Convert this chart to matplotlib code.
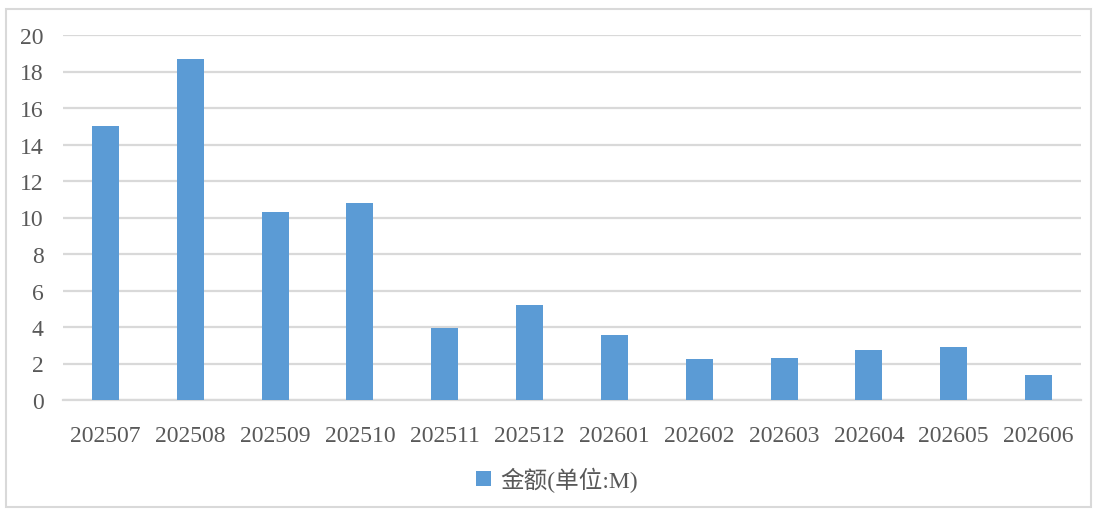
import matplotlib.pyplot as plt
from matplotlib.patches import Rectangle
import numpy as np

months = ["202507", "202508", "202509", "202510", "202511", "202512",
          "202601", "202602", "202603", "202604", "202605", "202606"]
amounts = [15.0, 18.67, 10.3, 10.78, 3.94, 5.2, 3.55, 2.22, 2.28, 2.72, 2.89, 1.39]
series_name = "金额(单位:M)"

plt.rcParams["font.family"] = ["Liberation Serif", "Noto Sans CJK SC", "DejaVu Sans"]
text_color = "#595959"
grid_color = "#d9d9d9"

fig = plt.figure(figsize=(10.98, 5.10), dpi=100)
ax = fig.add_axes([63 / 1098, 1 - 401 / 510, 1018 / 1098, 365 / 510])

x = np.arange(len(months))
ax.bar(x, amounts, width=0.32, color="#5B9BD5", label=series_name, zorder=3)

ax.set_xlim(-0.5, len(months) - 0.5)
ax.set_ylim(0, 20)
ax.set_yticks(np.arange(0, 21, 2))
ax.set_xticks(x)
ax.set_xticklabels(months)
ax.tick_params(axis="both", length=0, labelsize=17, colors=text_color)
ax.tick_params(axis="x", pad=18)
ax.tick_params(axis="y", pad=14)
ax.grid(axis="y", color=grid_color, linewidth=1.6, zorder=0)
for side in ["top", "right", "left"]:
    ax.spines[side].set_visible(False)
ax.spines["bottom"].set_color(grid_color)
ax.spines["bottom"].set_linewidth(1.6)

leg = fig.legend(loc="center", bbox_to_anchor=(557 / 1098, 1 - 480 / 510),
                 frameon=False, fontsize=17, handlelength=0.6, handleheight=0.6,
                 handletextpad=0.4, labelcolor=text_color)

# light border round the chart
fig.patches.append(Rectangle((6 / 1098, 2 / 510), 1085 / 1098, 498 / 510,
                             transform=fig.transFigure, fill=False,
                             edgecolor=grid_color, linewidth=1.5))

fig.savefig("out.png", dpi=100)
